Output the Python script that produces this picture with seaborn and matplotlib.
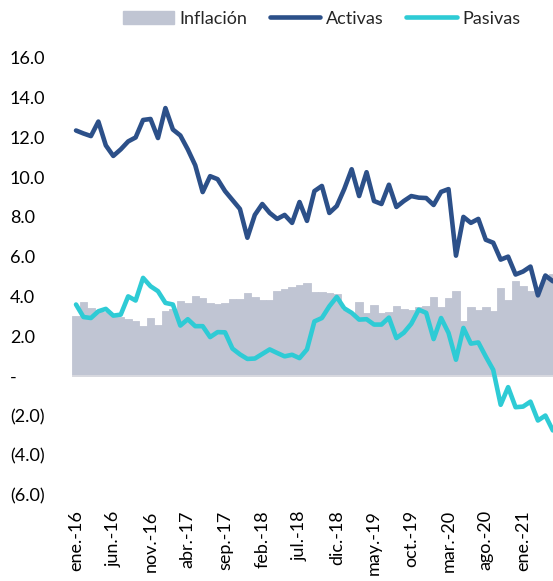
import numpy as np
import pandas as pd
import matplotlib
matplotlib.use("Agg")
import matplotlib.pyplot as plt
from matplotlib.patches import Patch
from matplotlib.lines import Line2D
import seaborn as sns

# ---------------- data (monthly, ene-16 ... may-21) ----------------
inflacion = [3.0, 3.7, 3.42, 3.3, 3.2, 3.0, 2.95, 2.86, 2.74, 2.49,
             2.93, 2.58, 3.25, 3.35, 3.75, 3.68, 4.04, 3.92, 3.67, 3.62,
             3.68, 3.87, 3.87, 4.15, 3.97, 3.8, 3.82, 4.26, 4.38, 4.45,
             4.57, 4.68, 4.22, 4.24, 4.15, 4.1, 3.3, 3.16, 3.7, 3.16,
             3.59, 3.16, 3.2, 3.54, 3.37, 3.33, 3.47, 3.5, 3.96, 3.45,
             3.92, 4.29, 2.74, 3.44, 3.33, 3.48, 3.28, 4.43, 3.84, 4.76,
             4.51, 4.26, 4.4, 5.03, 5.14]
activas = [12.35, 12.2, 12.07, 12.8, 11.6, 11.07, 11.4, 11.8, 12.0, 12.88,
           12.93, 11.97, 13.48, 12.4, 12.1, 11.4, 10.6, 9.25, 10.05, 9.9,
           9.3, 8.85, 8.4, 6.95, 8.1, 8.65, 8.2, 7.9, 8.1, 7.7,
           8.75, 7.8, 9.3, 9.56, 8.2, 8.55, 9.4, 10.4, 9.05, 10.25,
           8.8, 8.65, 9.62, 8.5, 8.8, 9.05, 8.97, 8.95, 8.6, 9.26,
           9.4, 6.05, 8.0, 7.7, 7.9, 6.85, 6.7, 5.85, 6.0, 5.1,
           5.25, 5.5, 4.05, 5.05, 4.76]
pasivas = [3.59, 2.96, 2.91, 3.25, 3.37, 3.03, 3.08, 4.0, 3.79, 4.93,
           4.51, 4.26, 3.67, 3.59, 2.53, 2.85, 2.5, 2.5, 1.95, 2.2,
           2.19, 1.37, 1.08, 0.85, 0.87, 1.1, 1.33, 1.15, 0.98, 1.06,
           0.89, 1.33, 2.74, 2.91, 3.5, 3.97, 3.4, 3.17, 2.83, 2.85,
           2.58, 2.58, 2.93, 1.9, 2.17, 2.62, 3.33, 3.17, 1.85, 2.91,
           2.16, 0.81, 2.41, 1.62, 1.68, 0.97, 0.3, -1.46, -0.57, -1.58,
           -1.55, -1.3, -2.25, -2.0, -2.75]
x_labels = ["ene.-16", "jun.-16", "nov.-16", "abr.-17", "sep.-17", "feb.-18",
            "jul.-18", "dic.-18", "may.-19", "oct.-19", "mar.-20", "ago.-20",
            "ene.-21"]
y_values = [16, 14, 12, 10, 8, 6, 4, 2, 0, -2, -4, -6]
y_labels = ["16.0", "14.0", "12.0", "10.0", "8.0", "6.0", "4.0", "2.0", "-",
            "(2.0)", "(4.0)", "(6.0)"]
series_names = ["Inflación", "Activas", "Pasivas"]

GRAY = "#c0c5d3"
BLUE = "#2c5089"
CYAN = "#2ecbd5"

sns.set_theme(style="white")
plt.rcParams["font.family"] = ["Lato", "DejaVu Sans"]

W, H = 553, 581
fig = plt.figure(figsize=(W / 100, H / 100), dpi=100)
left_px, right_px, top_px, bot_px = 72.3, 553, 58, 495
ax = fig.add_axes([left_px / W, (H - bot_px) / H, (right_px - left_px) / W, (bot_px - top_px) / H])

n = len(inflacion)
df = pd.DataFrame({"i": np.arange(n), "Inflación": inflacion,
                   "Activas": activas, "Pasivas": pasivas})

sns.barplot(data=df, x="i", y="Inflación", color=GRAY, saturation=1, width=1.0,
            native_scale=True, edgecolor=GRAY, linewidth=0.6, ax=ax, zorder=1)
ax.axhline(0, color="#dcdde2", lw=1.2, zorder=1.5)
sns.lineplot(data=df, x="i", y="Activas", color=BLUE, lw=3.3, ax=ax,
             legend=False, zorder=3)
sns.lineplot(data=df, x="i", y="Pasivas", color=CYAN, lw=3.3, ax=ax,
             legend=False, zorder=4)

ax.set_xlim(-0.5, (right_px - left_px) / 7.45 - 0.5)
ax.set_ylim(-6, 16)
ax.set_xlabel("")
ax.set_ylabel("")
for s in ax.spines.values():
    s.set_visible(False)

ax.set_yticks(y_values)
ax.set_yticklabels(y_labels, fontsize=13, color="#000000")
for lbl in ax.get_yticklabels():
    lbl.set_horizontalalignment("left")
ax.tick_params(axis="y", length=0, pad=(left_px - 10) * 0.72)

ax.set_xticks(np.arange(0, n, 5)[:len(x_labels)])
ax.set_xticklabels(x_labels, rotation=90, fontsize=13, color="#000000",
                   ha="center", va="top")
ax.tick_params(axis="x", length=0, pad=11)
ax.grid(False)

handles = [Patch(facecolor=GRAY, edgecolor=GRAY),
           Line2D([0], [0], color=BLUE, lw=3.3),
           Line2D([0], [0], color=CYAN, lw=3.3)]
fig.legend(handles, series_names, ncol=3, loc="upper center",
           bbox_to_anchor=(0.582, 0.988), frameon=False, fontsize=13,
           handlelength=2.8, handletextpad=0.3, columnspacing=1.25,
           borderaxespad=0, borderpad=0.2)

fig.savefig("out.png", dpi=100)
